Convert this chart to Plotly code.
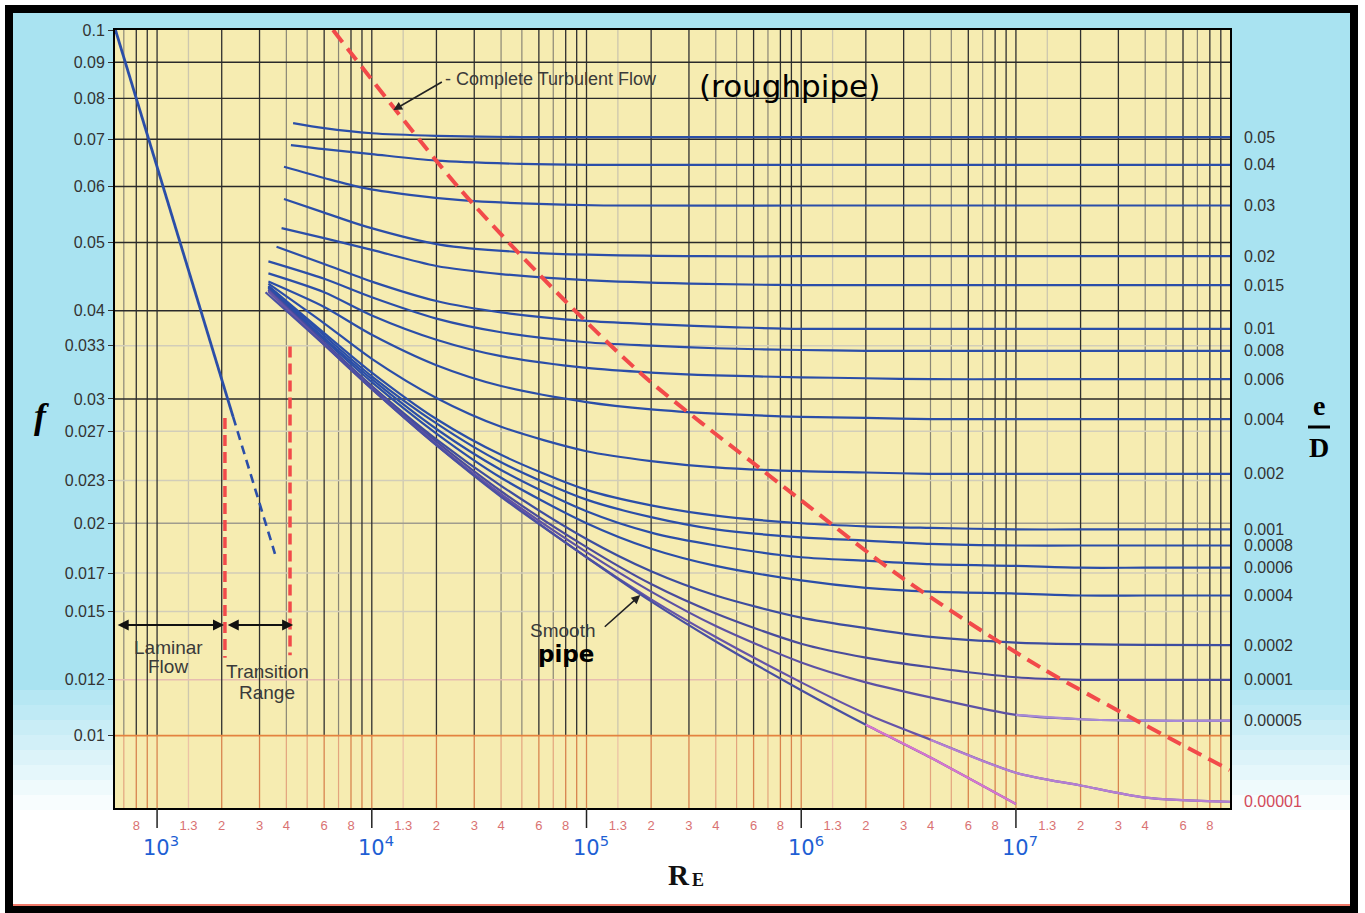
import math
import plotly.graph_objects as go

# ---------------- data ----------------
# common Reynolds-number grid used by the lower-roughness curves
RE_GRID = [3.3e3, 6e3, 1e4, 2e4, 4e4, 1e5, 2e5, 4e5, 1e6, 2e6, 4e6, 1e7, 2e7, 4e7, 1e8]

RE_0p05 = [4.3e3, 6e3, 1e4, 2e4, 5e4, 1e5, 1e6, 1e8]
F_0p05 = [0.0738, 0.0726, 0.0714, 0.0708, 0.0705, 0.0705, 0.0705, 0.0705]
RE_0p04 = [4.2e3, 6e3, 1e4, 2e4, 5e4, 1e5, 1e6, 1e8]
F_0p04 = [0.0687, 0.0678, 0.0667, 0.0653, 0.0646, 0.0644, 0.0644, 0.0644]
RE_0p03 = [3.9e3, 6e3, 9e3, 1.5e4, 2.6e4, 5e4, 1.2e5, 1e6, 1e8]
F_0p03 = [0.0640, 0.0617, 0.0598, 0.0584, 0.0574, 0.0568, 0.0564, 0.0564, 0.0564]
RE_0p02 = [3.9e3, 6e3, 9.5e3, 2.1e4, 6e4, 3.4e5, 1e6, 1e7, 1e8]
F_0p02 = [0.0576, 0.0551, 0.0526, 0.0496, 0.0483, 0.0478, 0.0478, 0.0478, 0.0478]
RE_0p015 = [3.8e3, 6e3, 1e4, 2e4, 4e4, 1e5, 3e5, 1e6, 1e8]
F_0p015 = [0.0524, 0.0507, 0.0488, 0.0463, 0.0451, 0.0442, 0.0437, 0.0435, 0.0435]
RE_0p01 = [3.6e3, 6e3, 1e4, 2e4, 4e4, 1e5, 2e5, 5e5, 1e6, 1e8]
F_0p01 = [0.0493, 0.0466, 0.0440, 0.0413, 0.0398, 0.0387, 0.0383, 0.0379, 0.0377, 0.0377]

F_0p008 = [0.0470, 0.0444, 0.0418, 0.0390, 0.0373, 0.0361, 0.0357, 0.0354, 0.0352, 0.0351, 0.0351, 0.0351, 0.0351, 0.0351, 0.0351]
F_0p006 = [0.0452, 0.0425, 0.0394, 0.0364, 0.0345, 0.0332, 0.0327, 0.0324, 0.0322, 0.0321, 0.0320, 0.0320, 0.0320, 0.0320, 0.0320]
F_0p004 = [0.0440, 0.0405, 0.0370, 0.0335, 0.0313, 0.0297, 0.0290, 0.0286, 0.0283, 0.0282, 0.0281, 0.0281, 0.0281, 0.0281, 0.0281]
F_0p002 = [0.0437, 0.0384, 0.0342, 0.0301, 0.0274, 0.0253, 0.0245, 0.0240, 0.0237, 0.0236, 0.0235, 0.0235, 0.0235, 0.0235, 0.0235]
F_0p001 = [0.0434, 0.0372, 0.0327, 0.0281, 0.0250, 0.0223, 0.0212, 0.0205, 0.0200, 0.0198, 0.0197, 0.0196, 0.0196, 0.0196, 0.0196]
F_0p0008 = [0.0433, 0.0369, 0.0323, 0.0277, 0.0244, 0.0216, 0.0204, 0.0196, 0.0191, 0.0189, 0.0187, 0.0186, 0.0186, 0.0186, 0.0186]
F_0p0006 = [0.0432, 0.0366, 0.0320, 0.0272, 0.0238, 0.0208, 0.0194, 0.0186, 0.0179, 0.0177, 0.0175, 0.0174, 0.0173, 0.0173, 0.0173]
F_0p0004 = [0.0431, 0.0364, 0.0317, 0.0268, 0.0232, 0.0200, 0.0184, 0.0174, 0.0166, 0.0162, 0.0160, 0.0159, 0.0158, 0.0158, 0.0158]
F_0p0002 = [0.0429, 0.0361, 0.0313, 0.0263, 0.0226, 0.0190, 0.0171, 0.0158, 0.0147, 0.0142, 0.0138, 0.01355, 0.01348, 0.01345, 0.01344]
F_0p0001 = [0.0428, 0.0360, 0.0312, 0.0261, 0.0222, 0.0185, 0.0164, 0.0149, 0.0135, 0.0129, 0.0125, 0.0121, 0.0120, 0.0120, 0.0120]
F_0p00005 = [0.0427, 0.0359, 0.0311, 0.0259, 0.0220, 0.0182, 0.0160, 0.0143, 0.0127, 0.0119, 0.01133, 0.0107, 0.01055, 0.0105, 0.0105]
F_0p00001 = [0.0426, 0.0358, 0.0310, 0.0258, 0.0219, 0.0179, 0.0156, 0.0138, 0.0119, 0.01074, 0.00987, 0.00886, 0.0085, 0.00817, 0.00806]

RE_SMOOTH = [3.2e3, 6e3, 1e4, 2e4, 4e4, 1e5, 2e5, 4e5, 1e6, 2e6, 4e6, 1e7]
F_SMOOTH = [0.0425, 0.0358, 0.0310, 0.0258, 0.0218, 0.0179, 0.0155, 0.0136, 0.0116, 0.01036, 0.00931, 0.0080]

ED_LABELS = ["0.05", "0.04", "0.03", "0.02", "0.015", "0.01", "0.008", "0.006", "0.004",
             "0.002", "0.001", "0.0008", "0.0006", "0.0004", "0.0002", "0.0001", "0.00005", "0.00001"]

# laminar flow line (solid) and its dashed extension
RE_LAM = [640, 1000, 2260]
F_LAM = [0.1, 0.064, 0.0283]
RE_LAM_EXT = [2260, 3540]
F_LAM_EXT = [0.0283, 0.0181]

# transition range boundaries (red dashed verticals)
RE_TRANS = [2.07e3, 4.16e3]
F_TRANS_TOP = [0.0282, 0.0356]
F_TRANS_BOT = [0.0129, 0.0130]

# complete turbulence boundary (red dashed)
RE_CT = [6.6e3, 2.6e4, 7.9e4, 1.9e5, 6.8e5, 9.9e5, 2.9e6, 1.3e7, 9.9e7]
F_CT = [0.1, 0.0593, 0.0414, 0.0321, 0.0236, 0.0216, 0.0168, 0.0125, 0.00894]

# axis ticks
Y_TICK_VALS = [0.1, 0.09, 0.08, 0.07, 0.06, 0.05, 0.04, 0.0357, 0.03, 0.027, 0.023, 0.02, 0.017, 0.015, 0.012, 0.01]
Y_TICK_TEXT = ["0.1", "0.09", "0.08", "0.07", "0.06", "0.05", "0.04", "0.033", "0.03", "0.027", "0.023",
               "0.02", "0.017", "0.015", "0.012", "0.01"]
X_DECADES = [1e3, 1e4, 1e5, 1e6, 1e7]
X_MULTS = [1.4, 2, 3, 4, 6, 8]
X_MULT_TEXT = ["1.3", "2", "3", "4", "6", "8"]
DECADE_EXP = [3, 4, 5, 6, 7]

GRID_DECADES = [1e2, 1e3, 1e4, 1e5, 1e6, 1e7]
GRID_DARK = [1, 2, 3, 6, 8, 9]
GRID_MID = [4, 5, 7]
GRID_LIGHT = [1.4]
Y_GRID_DARK = [0.09, 0.08, 0.07, 0.06, 0.05, 0.04, 0.03]
Y_GRID_LIGHT = [0.0357, 0.027, 0.023, 0.017, 0.015]
Y_GRID_MID = [0.02]
Y_GRID_PINK = [0.012]
Y_GRID_ORANGE = [0.01]

# ---------------- layout geometry ----------------
W, H = 1365, 913
ML, MR, MT, MB = 115, 135, 30, 105
PW, PH = W - ML - MR, H - MT - MB
X_RANGE = [2.804, 7.997]
Y_RANGE = [-2.1025, -1.0]
X_MIN, X_MAX = 10 ** X_RANGE[0], 10 ** X_RANGE[1]
F_TOP, F_SPLIT, F_BOT = 0.1, 0.01, 0.0079


def px(p):
    return (p - ML) / PW


def py(p):
    return (H - MB - p) / PH


def lg(v):
    return math.log10(v)


fig = go.Figure()

# ---------------- grid (as line traces) ----------------
def vgrid(mults, col_top, col_bot, width):
    vals = [d * m for d in GRID_DECADES for m in mults if X_MIN <= d * m <= X_MAX]
    xs, ys, xs2, ys2 = [], [], [], []
    for v in vals:
        xs += [v, v, None]
        ys += [F_TOP, F_SPLIT, None]
        xs2 += [v, v, None]
        ys2 += [F_SPLIT, F_BOT, None]
    fig.add_trace(go.Scatter(x=xs, y=ys, mode="lines", line=dict(color=col_top, width=width), hoverinfo="skip"))
    fig.add_trace(go.Scatter(x=xs2, y=ys2, mode="lines", line=dict(color=col_bot, width=width), hoverinfo="skip"))


def hgrid(vals, col, width):
    xs, ys = [], []
    for v in vals:
        xs += [X_MIN * 0.9, X_MAX * 1.1, None]
        ys += [v, v, None]
    fig.add_trace(go.Scatter(x=xs, y=ys, mode="lines", line=dict(color=col, width=width), hoverinfo="skip"))


vgrid(GRID_LIGHT, "#cdc7ae", "#ecc2a6", 1.3)
vgrid(GRID_MID, "#8a8676", "#e3a47e", 1.2)
hgrid(Y_GRID_LIGHT, "#d2cdb9", 1.5)
hgrid(Y_GRID_MID, "#a09c8e", 1.5)
hgrid(Y_GRID_PINK, "#e7bcb0", 1.5)
vgrid(GRID_DARK, "#2f2f2f", "#d8844f", 1.3)
hgrid(Y_GRID_DARK, "#2a2a2a", 1.4)
hgrid(Y_GRID_ORANGE, "#e4823f", 1.6)

# ---------------- curves ----------------
BLUE = "#2b4ea8"
curves = [
    (RE_0p05, F_0p05, BLUE), (RE_0p04, F_0p04, BLUE), (RE_0p03, F_0p03, BLUE),
    (RE_0p02, F_0p02, BLUE), (RE_0p015, F_0p015, BLUE), (RE_0p01, F_0p01, BLUE),
    (RE_GRID, F_0p008, BLUE), (RE_GRID, F_0p006, BLUE), (RE_GRID, F_0p004, BLUE),
    (RE_GRID, F_0p002, BLUE), (RE_GRID, F_0p001, BLUE), (RE_GRID, F_0p0008, BLUE),
    (RE_GRID, F_0p0006, BLUE), (RE_GRID, F_0p0004, BLUE), (RE_GRID, F_0p0002, "#3d4d9f"),
    (RE_GRID, F_0p0001, "#4a4c9c"), (RE_GRID, F_0p00005, "#5d52a4"), (RE_GRID, F_0p00001, "#6554a8"),
]
for re_, f_, col in curves:
    fig.add_trace(go.Scatter(x=re_, y=f_, mode="lines", line=dict(color=col, width=2.2, shape="spline", smoothing=0.8),
                             hoverinfo="skip"))
fig.add_trace(go.Scatter(x=RE_SMOOTH, y=F_SMOOTH, mode="lines",
                         line=dict(color="#4a50a2", width=2.2, shape="spline", smoothing=0.8), hoverinfo="skip"))
# faded (pink/lilac) tails of the lowest curves as in the scan
fig.add_trace(go.Scatter(x=RE_SMOOTH[9:], y=F_SMOOTH[9:], mode="lines",
                         line=dict(color="#d874cf", width=2.2, shape="spline", smoothing=0.8), hoverinfo="skip"))
fig.add_trace(go.Scatter(x=RE_GRID[10:], y=F_0p00001[10:], mode="lines",
                         line=dict(color="#b57ed2", width=2.2, shape="spline", smoothing=0.8), hoverinfo="skip"))
fig.add_trace(go.Scatter(x=RE_GRID[11:], y=F_0p00005[11:], mode="lines",
                         line=dict(color="#a88ad6", width=2.2, shape="spline", smoothing=0.8), hoverinfo="skip"))

# laminar
fig.add_trace(go.Scatter(x=RE_LAM, y=F_LAM, mode="lines", line=dict(color="#2b4ea8", width=2.8), hoverinfo="skip"))
fig.add_trace(go.Scatter(x=RE_LAM_EXT, y=F_LAM_EXT, mode="lines",
                         line=dict(color="#2b4ea8", width=2.6, dash="9px,6px"), hoverinfo="skip"))

# transition boundaries
for r, ft, fb in zip(RE_TRANS, F_TRANS_TOP, F_TRANS_BOT):
    fig.add_trace(go.Scatter(x=[r, r], y=[ft, fb], mode="lines",
                             line=dict(color="#f24a4a", width=3.5, dash="11px,6px"), hoverinfo="skip"))

# complete turbulence boundary
fig.add_trace(go.Scatter(x=RE_CT, y=F_CT, mode="lines",
                         line=dict(color="#f24a4a", width=4, dash="15px,8px", shape="spline", smoothing=0.8),
                         hoverinfo="skip"))

# ---------------- background & frame shapes ----------------
shapes = []
BLUE_BG = "#a9e3f1"
shapes.append(dict(type="rect", xref="paper", yref="paper", x0=px(13), x1=px(1350), y0=py(13), y1=py(690),
                   fillcolor=BLUE_BG, line=dict(width=0), layer="below"))
for i in range(8):
    shapes.append(dict(type="rect", xref="paper", yref="paper", x0=px(13), x1=px(1350),
                       y0=py(690 + 15 * i), y1=py(705 + 15 * i),
                       fillcolor=BLUE_BG, opacity=max(0.05, 0.85 - 0.11 * i), line=dict(width=0), layer="below"))
shapes.append(dict(type="rect", xref="paper", yref="paper", x0=0, x1=1, y0=0, y1=1,
                   fillcolor="#f6ecb1", line=dict(width=0), layer="below"))
shapes.append(dict(type="line", xref="paper", yref="paper", x0=px(13), x1=px(1350), y0=py(905), y1=py(905),
                   line=dict(color="#f07a6a", width=2)))
shapes.append(dict(type="rect", xref="paper", yref="paper", x0=px(9), x1=px(1354), y0=py(9), y1=py(910),
                   line=dict(color="black", width=8), fillcolor="rgba(0,0,0,0)"))
# decade tick marks under the axis
for d in X_DECADES:
    shapes.append(dict(type="line", xref="x", yref="paper", x0=d, x1=d, y0=0, y1=py(828),
                       line=dict(color="#222", width=1.5)))
# fraction bar for e/D
shapes.append(dict(type="line", xref="paper", yref="paper", x0=px(1308), x1=px(1330), y0=py(427), y1=py(427),
                   line=dict(color="black", width=3)))

# ---------------- annotations ----------------
ann = []
TXT = "#3a3a3a"
SANS = "Liberation Sans, Arial, sans-serif"
SERIF = "Liberation Serif, Times New Roman, serif"
C = dict(xanchor="center", yanchor="middle", showarrow=False)

# e/D labels at the right-hand end of each curve
ends = [F_0p05[-1], F_0p04[-1], F_0p03[-1], F_0p02[-1], F_0p015[-1], F_0p01[-1], F_0p008[-1], F_0p006[-1],
        F_0p004[-1], F_0p002[-1], F_0p001[-1], F_0p0008[-1], F_0p0006[-1], F_0p0004[-1], F_0p0002[-1],
        F_0p0001[-1], F_0p00005[-1], F_0p00001[-1]]
for lab, fv in zip(ED_LABELS, ends):
    ann.append(dict(text=lab, xref="paper", yref="y", x=px(1242), y=lg(fv), xanchor="left", yanchor="middle",
                    showarrow=False, font=dict(family=SANS, size=16,
                                               color="#d24a5a" if lab == "0.00001" else "#333")))

# handwritten decade labels
for d, e in zip(X_DECADES, DECADE_EXP):
    ann.append(dict(text="10<sup>%d</sup>" % e, xref="x", yref="paper", x=lg(d) + 0.02, y=py(846),
                    font=dict(family="DejaVu Sans", size=21, color="#1e5fd4"), **C))

ann += [
    dict(text="- Complete Turbulent Flow", xref="x", yref="y", x=lg(2.15e4), y=lg(0.0852), xanchor="left",
         yanchor="middle", showarrow=False, font=dict(family=SANS, size=18, color=TXT)),
    dict(text="", xref="x", yref="y", x=lg(1.26e4), y=lg(0.0770), ax=50, ay=-29, showarrow=True,
         arrowhead=2, arrowsize=1.1, arrowwidth=1.6, arrowcolor="#222"),
    dict(text="(roughpipe)", xref="x", yref="y", x=lg(8.8e5), y=lg(0.0833),
         font=dict(family="DejaVu Sans", size=31, color="black"), **C),
    dict(text="Laminar", xref="x", yref="y", x=lg(1.125e3), y=lg(0.01332),
         font=dict(family=SANS, size=19, color=TXT), **C),
    dict(text="Flow", xref="x", yref="y", x=lg(1.125e3), y=lg(0.01253),
         font=dict(family=SANS, size=19, color=TXT), **C),
    dict(text="Transition", xref="x", yref="y", x=lg(3.28e3), y=lg(0.01233),
         font=dict(family=SANS, size=19, color=TXT), **C),
    dict(text="Range", xref="x", yref="y", x=lg(3.25e3), y=lg(0.01151),
         font=dict(family=SANS, size=19, color=TXT), **C),
    dict(text="Smooth", xref="x", yref="y", x=lg(7.69e4), y=lg(0.01410),
         font=dict(family=SANS, size=19, color=TXT), **C),
    dict(text="<b>pipe</b>", xref="x", yref="y", x=lg(7.99e4), y=lg(0.01304),
         font=dict(family="DejaVu Sans", size=23, color="black"), **C),
    dict(text="", xref="x", yref="y", x=lg(1.78e5), y=lg(0.01582), ax=-37, ay=33, showarrow=True,
         arrowhead=2, arrowsize=1.1, arrowwidth=1.6, arrowcolor="#222"),
    # laminar / transition range double arrows
    dict(text="", xref="x", yref="y", x=lg(2.05e3), y=lg(0.01435), axref="x", ayref="y", ax=lg(645),
         ay=lg(0.01435), showarrow=True, arrowside="end+start", arrowhead=2, startarrowhead=2,
         arrowsize=1.1, startarrowsize=1.1, arrowwidth=2, arrowcolor="#111"),
    dict(text="", xref="x", yref="y", x=lg(4.3e3), y=lg(0.01435), axref="x", ayref="y", ax=lg(2.1e3),
         ay=lg(0.01435), showarrow=True, arrowside="end+start", arrowhead=2, startarrowhead=2,
         arrowsize=1.1, startarrowsize=1.1, arrowwidth=2, arrowcolor="#111"),
    # axis titles
    dict(text="<b><i>f</i></b>", xref="paper", yref="paper", x=px(41), y=py(416),
         font=dict(family=SERIF, size=36, color="black"), **C),
    dict(text="<b>e</b>", xref="paper", yref="paper", x=px(1319), y=py(405),
         font=dict(family=SERIF, size=28, color="black"), **C),
    dict(text="<b>D</b>", xref="paper", yref="paper", x=px(1319), y=py(447),
         font=dict(family=SERIF, size=28, color="black"), **C),
    dict(text="<b>R</b>", xref="paper", yref="paper", x=px(679), y=py(875),
         font=dict(family=SERIF, size=29, color="#111"), **C),
    dict(text="<b>E</b>", xref="paper", yref="paper", x=px(698), y=py(880),
         font=dict(family=SERIF, size=18, color="#111"), **C),
]

x_tick_vals = [8e2] + [d * m for d in X_DECADES for m in X_MULTS]
x_tick_text = ["8"] + [t for d in X_DECADES for t in X_MULT_TEXT]

fig.update_layout(
    width=W, height=H, margin=dict(l=ML, r=MR, t=MT, b=MB, pad=0),
    paper_bgcolor="white", plot_bgcolor="rgba(0,0,0,0)", showlegend=False,
    shapes=shapes, annotations=ann,
    xaxis=dict(type="log", range=X_RANGE, showgrid=False, zeroline=False, tickmode="array",
               tickvals=x_tick_vals, ticktext=x_tick_text, ticks="outside", ticklen=4,
               tickcolor="rgba(0,0,0,0)", tickfont=dict(family=SANS, size=13, color="#d97272"),
               showline=True, linecolor="black", linewidth=2, mirror=True),
    yaxis=dict(type="log", range=Y_RANGE, showgrid=False, zeroline=False, tickmode="array",
               tickvals=Y_TICK_VALS, ticktext=Y_TICK_TEXT, ticks="outside", ticklen=5, tickcolor="#333",
               tickfont=dict(family=SANS, size=16, color="#333"),
               showline=True, linecolor="black", linewidth=2, mirror=True),
)

fig.write_html("out.html", config={"displayModeBar": False},
               post_script="document.body.style.margin='0';document.body.style.overflow='hidden';")
